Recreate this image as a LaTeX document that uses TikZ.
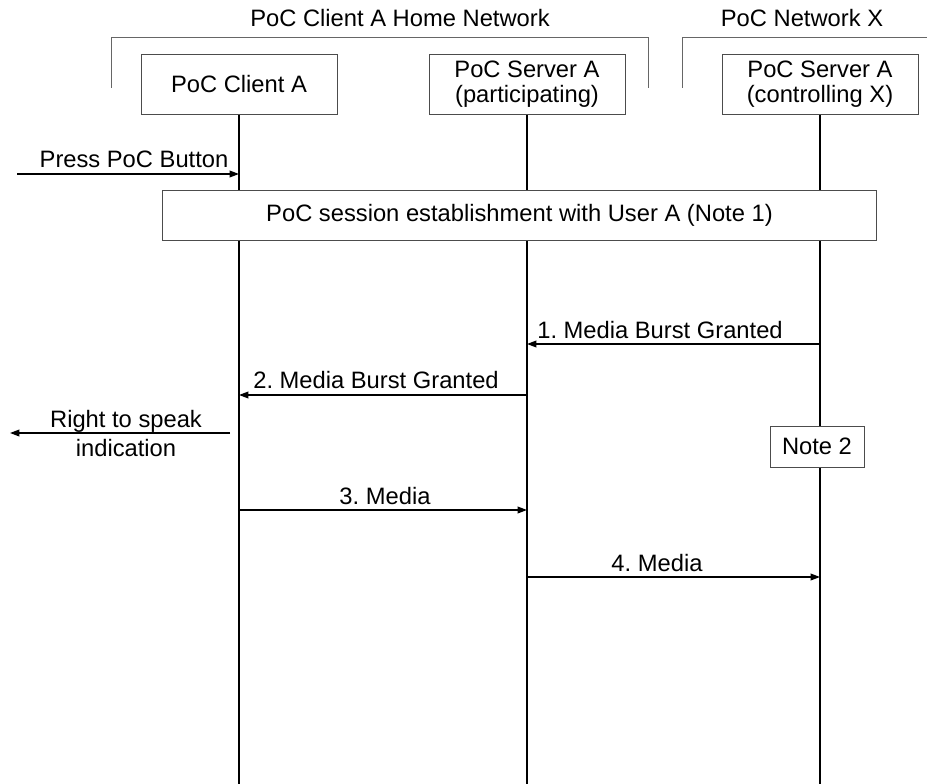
\documentclass[tikz,border=0pt]{standalone}
\usepackage{fontspec}
\setmainfont{Liberation Sans}
\frenchspacing
\usetikzlibrary{arrows.meta,positioning,calc,backgrounds}
\pgfdeclarelayer{edgelayer}
\pgfdeclarelayer{nodelayer}
\pgfsetlayers{background,edgelayer,nodelayer,main}
\tikzstyle{none}=[inner sep=0mm]
\tikzstyle{caption}=[inner sep=0mm,align=center]
\tikzstyle{entity}=[draw=black!70,line width=0.6pt,fill=white,minimum width=147pt,minimum height=45pt,align=center,inner sep=1pt]
\tikzstyle{banner}=[entity,minimum width=536pt,minimum height=37.5pt]
\tikzstyle{notebox}=[entity,minimum width=70.5pt,minimum height=30.75pt]
\tikzstyle{lifeline}=[line width=1.2pt]
\tikzstyle{netbracket}=[draw=black!60,line width=0.6pt]
\tikzstyle{msg}=[line width=1.1pt,-{Triangle[length=7pt,width=5pt]}]
\begin{document}
\begin{tikzpicture}[x=0.75pt,y=-0.75pt,font={\fontsize{17.8}{18.5}\selectfont}]
	\useasboundingbox (0,0) rectangle (927,784);
	\begin{pgfonlayer}{nodelayer}
		\node [style=entity] (clientA) at (239, 84) {PoC Client A};
		\node [style=entity] (partA) at (527, 84) {PoC Server A\\(participating)};
		\node [style=entity] (ctrlX) at (820, 84) {PoC Server A\\(controlling X)};
		\node [style=banner] (session) at (519.5, 215) {PoC session establishment with User A (Note 1)};
		\node [style=notebox] (note2) at (817, 446.5) {Note 2};
		\node [style=caption,anchor=base] (homenet) at (400, 27) {PoC Client A Home Network};
		\node [style=caption,anchor=base] (netX) at (802, 27) {PoC Network X};
		\node [style=caption,anchor=base] (press) at (134, 168) {Press PoC Button};
		\node [style=caption,anchor=base] (right) at (126, 427) {Right to speak};
		\node [style=caption,anchor=base] (indic) at (126, 456) {indication};
		\node [style=caption,anchor=base] (lbl1) at (660, 338) {1. Media Burst Granted};
		\node [style=caption,anchor=base] (lbl2) at (376, 388) {2. Media Burst Granted};
		\node [style=caption,anchor=base] (lbl3) at (385, 504) {3. Media};
		\node [style=caption,anchor=base] (lbl4) at (657, 571) {4. Media};
	\end{pgfonlayer}
	% lifeline ends and message ends
	\coordinate (endA) at (239, 784);
	\coordinate (endP) at (527, 784);
	\coordinate (endX) at (820, 784);
	\coordinate (user1) at (17, 174);
	\coordinate (a1) at (239, 174);
	\coordinate (x1) at (820, 344);
	\coordinate (p1) at (527, 344);
	\coordinate (p2) at (527, 395);
	\coordinate (a2) at (239, 395);
	\coordinate (a3) at (230, 433);
	\coordinate (user2) at (10, 433);
	\coordinate (a4) at (239, 510);
	\coordinate (p4) at (527, 510);
	\coordinate (p5) at (527, 577);
	\coordinate (x5) at (820, 577);
	\begin{pgfonlayer}{edgelayer}
		\draw[style=netbracket] (111, 88) -- (111, 37) -- (648, 37) -- (648, 88);
		\draw[style=netbracket] (682, 88) -- (682, 37) -- (927, 37);
		\draw[style=lifeline] (clientA) to (endA);
		\draw[style=lifeline] (partA) to (endP);
		\draw[style=lifeline] (ctrlX) to (endX);
		\draw[style=msg] (user1) to (a1);
		\draw[style=msg] (x1) to (p1);
		\draw[style=msg] (p2) to (a2);
		\draw[style=msg] (a3) to (user2);
		\draw[style=msg] (a4) to (p4);
		\draw[style=msg] (p5) to (x5);
	\end{pgfonlayer}
\end{tikzpicture}
\end{document}
